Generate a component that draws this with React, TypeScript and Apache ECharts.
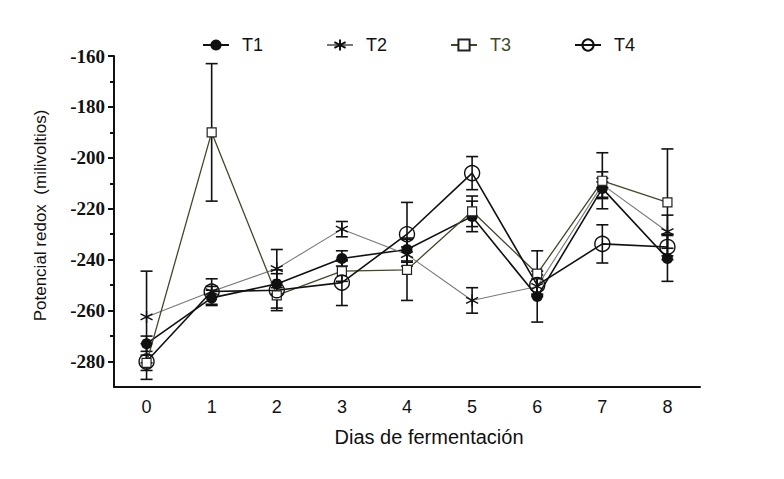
import React, { useEffect, useRef } from "react";
import * as echarts from "echarts";

const days = ["0", "1", "2", "3", "4", "5", "6", "7", "8"];
const seriesNames = ["T1", "T2", "T3", "T4"];

const t1 = [-273, -255, -249.5, -239.5, -236, -223, -254.5, -212, -239.5];
const t1Err = [3, 3, 4, 3, 4.5, 6, 10, 4, 9];
const t2 = [-262.5, -252.5, -243.5, -228, -238, -256, -250.5, -210.5, -229];
const t2Err = [18, 2, 7.5, 3, 3, 5, 3, 5, 6.5];
const t3 = [-280.5, -190, -254, -244.5, -244, -221, -245.5, -209, -217.5];
const t3Err = [3, 27, 5, 4, 12, 6, 9, 11, 21];
const t4 = [-280, -252.5, -252, -249, -230, -206, -250, -233.8, -235];
const t4Err = [7, 5, 8, 9, 12.5, 6.5, 4, 7.5, 5];

const yMajorTicks = [-280, -260, -240, -220, -200, -180, -160];
const yMinorTicks = [-270, -250, -230, -210, -190, -170];

const OLIVE = "#3d4a26";
const SANS = "'Liberation Sans', Arial, sans-serif";
const SERIF = "'Times New Roman', 'Liberation Serif', serif";
const ASTERISK =
  "path://M0,-1L0,1M-0.866,-0.5L0.866,0.5M-0.866,0.5L0.866,-0.5";

function errorSeries(values: number[], errs: number[], z: number) {
  return {
    type: "custom",
    z,
    silent: true,
    data: values.map((v, i) => [i, v - errs[i], v + errs[i]]),
    renderItem: (params: any, api: any) => {
      const x = api.value(0);
      const lo = api.coord([x, api.value(1)]);
      const hi = api.coord([x, api.value(2)]);
      const hw = 6;
      const style = { stroke: "#111", lineWidth: 1.6 };
      return {
        type: "group",
        children: [
          { type: "line", shape: { x1: lo[0], y1: lo[1], x2: hi[0], y2: hi[1] }, style },
          { type: "line", shape: { x1: lo[0] - hw, y1: lo[1], x2: lo[0] + hw, y2: lo[1] }, style },
          { type: "line", shape: { x1: hi[0] - hw, y1: hi[1], x2: hi[0] + hw, y2: hi[1] }, style },
        ],
      };
    },
  };
}

export default function App() {
  const ref = useRef<HTMLDivElement>(null);
  useEffect(() => {
    if (!ref.current) return;
    const chart = echarts.init(ref.current, null, { renderer: "svg" });
    const option: any = {
      animation: false,
      backgroundColor: "#ffffff",
      grid: { left: 114, right: 84, top: 56, bottom: 92, containLabel: false },
      legend: {
        left: 197,
        top: 31,
        itemWidth: 26,
        itemHeight: 14,
        itemGap: 63,
        textStyle: {
          fontFamily: SANS,
          fontSize: 18,
          color: "#111",
          padding: [0, 0, 0, 8],
        },
        data: [
          { name: "T1" },
          { name: "T2" },
          { name: "T3", textStyle: { color: OLIVE } },
          { name: "T4" },
        ],
      },
      xAxis: {
        type: "category",
        data: days,
        boundaryGap: true,
        name: "Dias de fermentación",
        nameLocation: "middle",
        nameGap: 40,
        nameTextStyle: {
          fontFamily: SANS,
          fontSize: 20,
          color: "#111",
          padding: [0, 0, 0, 44],
        },
        axisLine: { lineStyle: { color: "#111", width: 2 } },
        axisTick: { alignWithLabel: true, length: 6, lineStyle: { color: "#111", width: 2 } },
        axisLabel: {
          margin: 11,
          fontFamily: SANS,
          fontSize: 18,
          color: "#111",
        },
        splitLine: { show: false },
      },
      yAxis: [
        {
          type: "value",
          min: -290,
          max: -160,
          position: "left",
          name: "Potencial redox  (milivoltios)",
          nameLocation: "middle",
          nameGap: 65,
          nameTextStyle: {
            fontFamily: SANS,
            fontSize: 17,
            color: "#111",
            padding: [0, 0, 0, 12],
          },
          axisLine: { show: true, lineStyle: { color: "#111", width: 2 } },
          axisTick: {
            show: true,
            length: 6,
            customValues: yMajorTicks,
            lineStyle: { color: "#111", width: 2 },
          },
          axisLabel: {
            customValues: yMajorTicks,
            margin: 9,
            fontFamily: SERIF,
            fontWeight: "bold",
            fontSize: 19,
            color: "#111",
          },
          splitLine: { show: false },
        },
        {
          type: "value",
          min: -290,
          max: -160,
          position: "left",
          axisLine: { show: false },
          axisTick: {
            show: true,
            length: 4,
            customValues: yMinorTicks,
            lineStyle: { color: "#111", width: 2 },
          },
          axisLabel: { show: false },
          splitLine: { show: false },
        },
      ],
      series: [
        errorSeries(t1, t1Err, 1),
        errorSeries(t2, t2Err, 1),
        errorSeries(t3, t3Err, 1),
        errorSeries(t4, t4Err, 1),
        {
          name: "T1",
          type: "line",
          z: 3,
          data: t1,
          symbol: "circle",
          symbolSize: 11,
          lineStyle: { color: "#111", width: 1.6 },
          itemStyle: { color: "#111" },
        },
        {
          name: "T2",
          type: "line",
          z: 3,
          data: t2,
          symbol: ASTERISK,
          symbolSize: 12,
          lineStyle: { color: "#777", width: 1.1 },
          itemStyle: { color: "#111", borderColor: "#111", borderWidth: 1.4 },
        },
        {
          name: "T3",
          type: "line",
          z: 3,
          data: t3,
          symbol: "rect",
          symbolSize: 9,
          lineStyle: { color: OLIVE, width: 1.3 },
          itemStyle: { color: "#fff", borderColor: "#222", borderWidth: 1.2 },
        },
        {
          name: "T4",
          type: "line",
          z: 3,
          data: t4,
          symbol: "circle",
          symbolSize: 15,
          lineStyle: { color: "#111", width: 1.6 },
          itemStyle: { color: "rgba(255,255,255,0)", borderColor: "#111", borderWidth: 1.4 },
        },
      ],
    };
    chart.setOption(option);
    return () => chart.dispose();
  }, []);
  return (
    <div
      ref={ref}
      style={{ position: "fixed", left: 0, top: 0, width: 784, height: 479, background: "#fff" }}
    />
  );
}
